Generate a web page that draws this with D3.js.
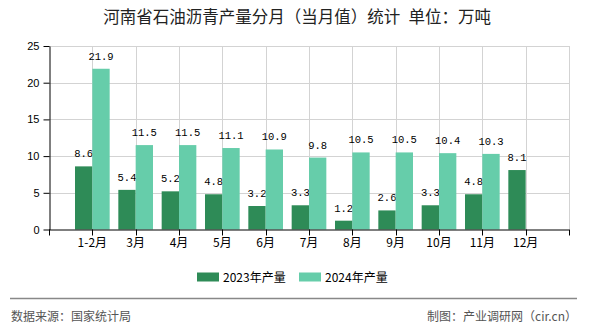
<!DOCTYPE html>
<html><head><meta charset="utf-8">
<script src="https://cdn.jsdelivr.net/npm/d3@7"></script>
<style>body{margin:0;background:#fff}svg{display:block}</style>
</head><body><svg id="c" width="590" height="330"></svg>
<script>
const categories = ["1-2月","3月","4月","5月","6月","7月","8月","9月","10月","11月","12月"];
const series2023 = [8.6,5.4,5.2,4.8,3.2,3.3,1.2,2.6,3.3,4.8,8.1];
const series2024 = [21.9,11.5,11.5,11.1,10.9,9.8,10.5,10.5,10.4,10.3,null];
const seriesNames = ["2023年产量","2024年产量"];
const yTicks = [0,5,10,15,20,25];
const title = "河南省石油沥青产量分月（当月值）统计\u2002单位：万吨";
const sourceText = "数据来源：国家统计局";
const makerText = "制图：产业调研网（cir.cn）";

const colors = ["#2E8B57","#66CDAA"];
const svg = d3.select("#c");
const L = 49, R = 569, T = 46, B = 229.5;
const x = d3.scalePoint().domain(categories).range([L, R]).padding(1);
const step = x.step();
const bw = step * 0.4;
const y = d3.scaleLinear().domain([0,25]).range([B, T]);
const cjk = "'Noto Sans CJK SC', 'Noto Sans', sans-serif";

svg.append("text").attr("x",297).attr("y",23).attr("text-anchor","middle")
  .attr("font-family",cjk).attr("font-size",16.5).attr("fill","#222").text(title);

// horizontal grid
svg.append("g").selectAll("line").data(yTicks.filter(d=>d>0)).join("line")
  .attr("x1",L).attr("x2",R).attr("y1",d=>Math.round(y(d))+0.5).attr("y2",d=>Math.round(y(d))+0.5)
  .attr("stroke","#d3d3d3").attr("stroke-width",1);
// vertical grid at ticks
const xt = d3.range(1, categories.length+2).map(i => L + i*step);
svg.append("g").selectAll("line").data(xt).join("line")
  .attr("x1",d=>Math.round(d)+0.5).attr("x2",d=>Math.round(d)+0.5).attr("y1",T).attr("y2",B)
  .attr("stroke","#d3d3d3").attr("stroke-width",1);

// bars
const g = svg.append("g");
[series2023, series2024].forEach((s, si) => {
  const data = categories.map((c,i)=>({c, v:s[i]})).filter(d=>d.v!=null);
  g.selectAll(null).data(data).join("rect")
    .attr("x", d => x(d.c) - bw + si*bw).attr("width", bw)
    .attr("y", d => y(d.v)).attr("height", d => B - y(d.v))
    .attr("fill", colors[si]);
  g.selectAll(null).data(data).join("text")
    .attr("x", d => x(d.c) - bw/2 + si*bw).attr("y", d => y(d.v) - 9)
    .attr("text-anchor","middle").attr("font-family","'Liberation Mono', monospace")
    .attr("font-size",10.5).attr("fill","#000").text(d => d.v.toFixed(1));
});

// y axis
const ya = svg.append("g").attr("transform",`translate(${L+0.5},0)`)
  .call(d3.axisLeft(y).tickValues(yTicks).tickSize(6).tickSizeOuter(0).tickPadding(4));
ya.select(".domain").attr("stroke","#000");
ya.selectAll(".tick line").attr("stroke","#000");
ya.selectAll("text").attr("font-family","'Liberation Sans', sans-serif").attr("font-size",11).attr("fill","#000");

// x axis
const xa = svg.append("g").attr("transform",`translate(0,${B})`);
xa.append("line").attr("x1",L).attr("x2",R).attr("y1",0.5).attr("y2",0.5).attr("stroke","#000");
xa.selectAll(null).data([L, ...xt]).join("line")
  .attr("x1",d=>Math.round(d)+0.5).attr("x2",d=>Math.round(d)+0.5).attr("y1",0).attr("y2",6).attr("stroke","#000");
xa.selectAll(null).data(categories).join("text")
  .attr("x", d => x(d)).attr("y", 17).attr("text-anchor","middle")
  .attr("font-family",cjk).attr("font-size",12).attr("fill","#000").text(d=>d);

// legend
const lg = svg.append("g");
const lx = [197, 299];
seriesNames.forEach((n,i)=>{
  lg.append("rect").attr("x",lx[i]).attr("y",272.5).attr("width",22).attr("height",9).attr("fill",colors[i]);
  lg.append("text").attr("x",lx[i]+26).attr("y",281.5).attr("font-family",cjk).attr("font-size",12)
    .attr("fill","#000").text(n);
});

// footer
svg.append("line").attr("x1",10).attr("x2",577).attr("y1",298.5).attr("y2",298.5).attr("stroke","#888").attr("stroke-width",1.5);
svg.append("text").attr("x",11).attr("y",321).attr("font-family",cjk).attr("font-size",12).attr("fill","#555").text(sourceText);
svg.append("text").attr("x",577).attr("y",321).attr("text-anchor","end").attr("font-family",cjk).attr("font-size",12).attr("fill","#555").text(makerText);
</script></body></html>
